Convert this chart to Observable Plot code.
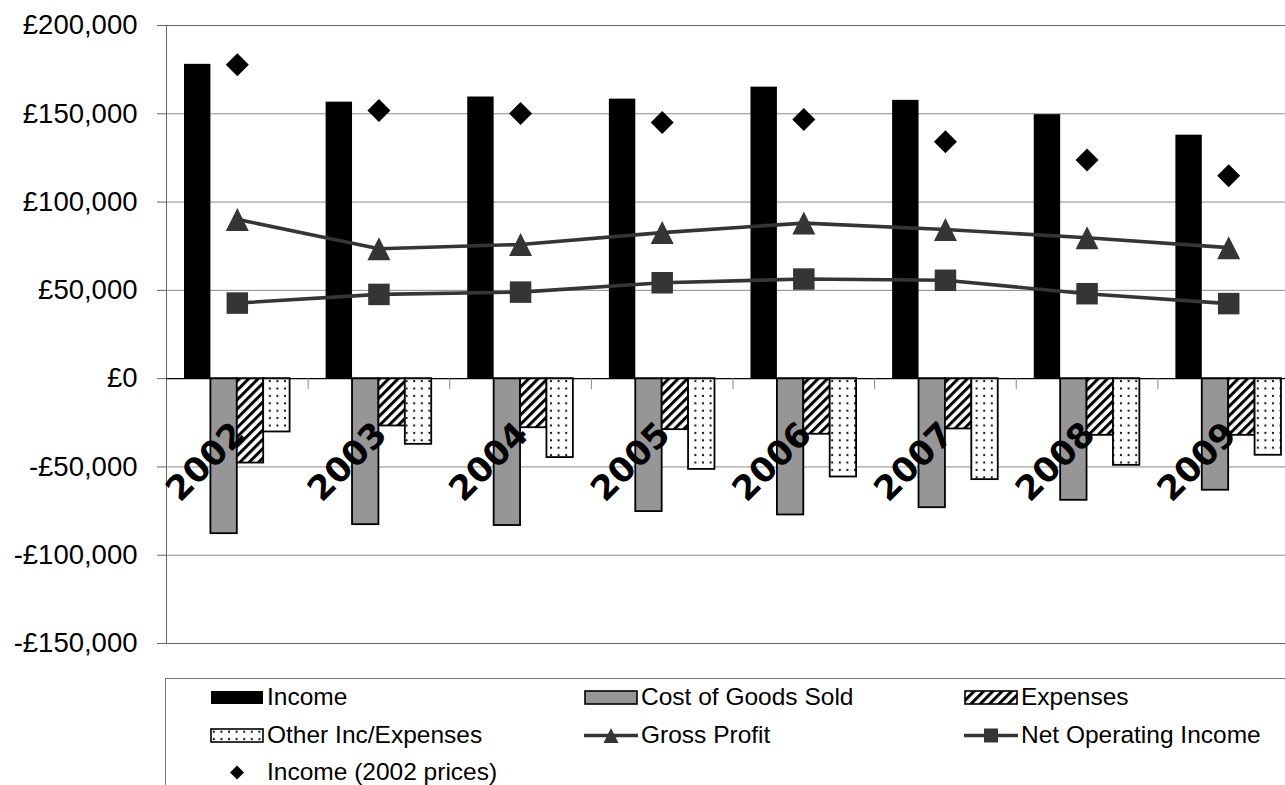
<!DOCTYPE html>
<html><head><meta charset="utf-8">
<script src="https://cdn.jsdelivr.net/npm/d3@7"></script>
<script src="https://cdn.jsdelivr.net/npm/@observablehq/plot@0.6"></script>
<style>
html,body{margin:0;padding:0;overflow:hidden;background:#fff;}
#wrap{position:relative;width:1285px;height:785px;overflow:hidden;font-family:"Liberation Sans",Arial,sans-serif;}
#chart{position:absolute;left:0;top:0;width:1300px;}
#chart svg{max-width:none !important;}
#legend{position:absolute;left:165px;top:678px;width:1200px;height:200px;border-left:1px solid #777;border-top:1px solid #777;}
.item{position:absolute;display:flex;align-items:center;font-size:24.5px;white-space:nowrap;height:30px;color:#000;}
.item svg{display:block;margin-right:3px;}
</style></head><body>
<svg width="0" height="0" style="position:absolute">
<defs>
<pattern id="hatch" patternUnits="userSpaceOnUse" width="6.6" height="6.6" patternTransform="rotate(45)">
<rect width="6.6" height="6.6" fill="white"/><rect width="3" height="6.6" fill="black"/>
</pattern>
<pattern id="dots" patternUnits="userSpaceOnUse" width="7.6" height="7.4">
<rect width="7.6" height="7.4" fill="white"/><circle cx="3.8" cy="3.7" r="1.1" fill="#111"/>
</pattern>
</defs></svg>
<div id="wrap"><div id="chart"></div><div id="legend"></div></div>
<script>
const years = [2002, 2003, 2004, 2005, 2006, 2007, 2008, 2009];
const income = [178000, 156600, 159500, 158300, 165100, 157600, 149500, 137900];
const costOfGoods = [-87800, -82700, -83200, -75300, -77200, -73100, -68900, -63200];
const expenses = [-47800, -26800, -27800, -28900, -31500, -28500, -32100, -32100];
const otherIncExp = [-30200, -37200, -44700, -51400, -55700, -57200, -49100, -43400];
const grossProfit = [90200, 73600, 76000, 82700, 88100, 84500, 79800, 74200];
const netOperatingIncome = [42800, 47700, 49000, 54300, 56400, 55700, 48100, 42500];
const income2002Prices = [177800, 151800, 150200, 145000, 146700, 134200, 123800, 114900];
const yTicks = [-150000, -100000, -50000, 0, 50000, 100000, 150000, 200000];
const seriesNames = ["Income", "Cost of Goods Sold", "Expenses", "Other Inc/Expenses", "Gross Profit", "Net Operating Income", "Income (2002 prices)"];

const rows = years.map((year, i) => ({
  year, income: income[i], cogs: costOfGoods[i], expenses: expenses[i], other: otherIncExp[i],
  gross: grossProfit[i], net: netOperatingIncome[i], real: income2002Prices[i]
}));

const W = 1300, H = 660, mL = 166, mR = 1, mT = 25, mB = 17;
const bw = (W - mL - mR) / years.length;   // band width
const o = 18, w = 26.4;                     // group offset and bar width
const inset = k => ({insetLeft: o + k * w, insetRight: bw - o - (k + 1) * w});

const tri = {draw(ctx, size) { const s = Math.sqrt(size) / 2; ctx.moveTo(0, -s); ctx.lineTo(s, s); ctx.lineTo(-s, s); ctx.closePath(); }};
const sq = {draw(ctx, size) { const s = Math.sqrt(size) / 2; ctx.rect(-s, -s, 2 * s, 2 * s); }};
const dia = {draw(ctx, size) { const s = Math.sqrt(size) / 2; ctx.moveTo(0, -s); ctx.lineTo(s, 0); ctx.lineTo(0, s); ctx.lineTo(-s, 0); ctx.closePath(); }};
const rFor = px => px / Math.sqrt(Math.PI);

const fmt = v => (v < 0 ? "-" : "") + "£" + d3.format(",")(Math.abs(v));

const chart = Plot.plot({
  width: W, height: H, marginLeft: mL, marginRight: mR, marginTop: mT, marginBottom: mB,
  style: {fontFamily: "'Liberation Sans', Arial, sans-serif", background: "white", color: "black", maxWidth: "none"},
  x: {type: "band", domain: years, paddingInner: 0, paddingOuter: 0, round: false, axis: null},
  y: {domain: [-150000, 200000], axis: null},
  marks: [
    Plot.ruleY(yTicks.filter(v => v !== 0), {stroke: "#8a8a8a", strokeWidth: 1}),
    Plot.frame({stroke: "#666"}),
    Plot.barY(rows, {x: "year", y: "income", fill: "black", ...inset(0)}),
    Plot.barY(rows, {x: "year", y: "cogs", fill: "#969696", stroke: "black", strokeWidth: 1.8, ...inset(1)}),
    Plot.barY(rows, {x: "year", y: "expenses", fill: "url(#hatch)", stroke: "black", strokeWidth: 1.8, ...inset(2)}),
    Plot.barY(rows, {x: "year", y: "other", fill: "url(#dots)", stroke: "black", strokeWidth: 1.8, ...inset(3)}),
    Plot.ruleY([0], {stroke: "black", strokeWidth: 1.2}),
    Plot.barY(years.slice(1), {x: d => d, y1: 0, y2: -6200, fill: "#888", insetLeft: 0, insetRight: bw - 1}),
    Plot.line(rows, {x: "year", y: "gross", stroke: "#353535", strokeWidth: 3.6}),
    Plot.dot(rows, {x: "year", y: "gross", symbol: tri, r: rFor(23), fill: "#353535", stroke: "none"}),
    Plot.line(rows, {x: "year", y: "net", stroke: "#353535", strokeWidth: 3.6}),
    Plot.dot(rows, {x: "year", y: "net", symbol: sq, r: rFor(21.5), fill: "#353535", stroke: "none"}),
    Plot.dot(rows, {x: "year", y: "real", symbol: dia, r: rFor(23), fill: "black", stroke: "none"}),
    Plot.text(rows, {x: "year", y: () => 0, text: d => String(d.year), rotate: -45, textAnchor: "end",
      fontSize: 34, fontWeight: "bold", fontFamily: "'DejaVu Sans', sans-serif", fill: "black", dx: 2, dy: 50}),
    Plot.axisY({ticks: yTicks, tickFormat: fmt, tickSize: 9, tickPadding: 20, fontSize: 27.5, stroke: "#666", fill: "black", label: null})
  ]
});
document.getElementById("chart").appendChild(chart);

// Legend (HTML, below the SVG)
const legend = d3.select("#legend");
const cols = [44, 418, 798], rowsY = [19, 57, 94];
const swatch = [
  s => s.append("rect").attr("x", 1).attr("y", 1).attr("width", 52).attr("height", 13).attr("fill", "black"),
  s => s.append("rect").attr("x", 1).attr("y", 1).attr("width", 52).attr("height", 13).attr("fill", "#969696").attr("stroke", "black").attr("stroke-width", 1.6),
  s => s.append("rect").attr("x", 1).attr("y", 1).attr("width", 52).attr("height", 13).attr("fill", "url(#hatch)").attr("stroke", "black").attr("stroke-width", 1.6),
  s => s.append("rect").attr("x", 1).attr("y", 1).attr("width", 52).attr("height", 13).attr("fill", "url(#dots)").attr("stroke", "black").attr("stroke-width", 1.6),
  s => { s.append("line").attr("x1", 0).attr("x2", 54).attr("y1", 7.5).attr("y2", 7.5).attr("stroke", "#353535").attr("stroke-width", 3.5);
         s.append("path").attr("transform", "translate(27,7.5)").attr("d", d3.symbol(tri, 15 * 15)()).attr("fill", "#353535"); },
  s => { s.append("line").attr("x1", 0).attr("x2", 54).attr("y1", 7.5).attr("y2", 7.5).attr("stroke", "#353535").attr("stroke-width", 3.5);
         s.append("path").attr("transform", "translate(27,7.5)").attr("d", d3.symbol(sq, 14 * 14)()).attr("fill", "#353535"); },
  s => s.append("path").attr("transform", "translate(27,7.5)").attr("d", d3.symbol(dia, 14 * 14)()).attr("fill", "black")
];
seriesNames.forEach((name, i) => {
  const item = legend.append("div").attr("class", "item")
    .style("left", cols[i % 3] + "px").style("top", (rowsY[Math.floor(i / 3)] - 16) + "px");
  const svg = item.append("svg").attr("width", 54).attr("height", 15);
  swatch[i](svg);
  item.append("span").text(name);
});
</script>
</body></html>
